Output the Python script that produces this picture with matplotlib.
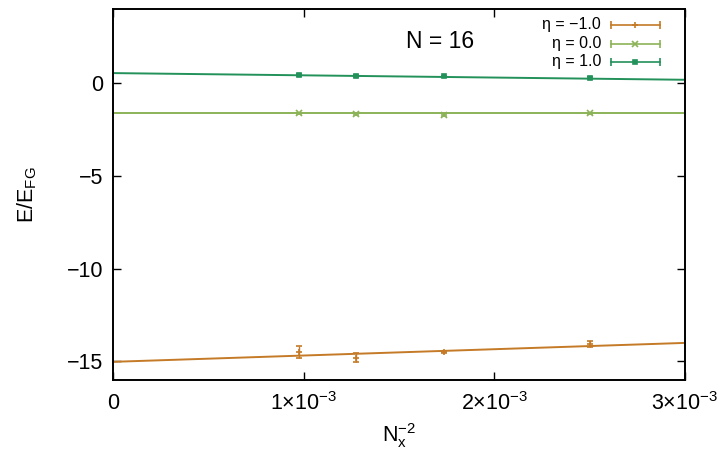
import matplotlib
matplotlib.use("Agg")
import matplotlib.pyplot as plt
import numpy as np

plt.rcParams["font.family"] = ["Liberation Sans", "DejaVu Sans"]
plt.rcParams["mathtext.fontset"] = "custom"
plt.rcParams["mathtext.rm"] = "Liberation Sans"
plt.rcParams["mathtext.it"] = "Liberation Sans"

# N_x = 32, 28, 24, 20  ->  x = 1/N_x^2
nx = np.array([32, 28, 24, 20])
x_vals = 1.0 / nx**2

labels = ["η = −1.0", "η = 0.0", "η = 1.0"]
energies = [
    [-14.50, -14.79, -14.51, -14.07],
    [-1.63, -1.66, -1.71, -1.63],
    [0.43, 0.39, 0.36, 0.27],
]
errors = [
    [0.32, 0.24, 0.06, 0.15],
    [0.04, 0.04, 0.04, 0.04],
    [0.04, 0.04, 0.04, 0.04],
]
# linear fits: value at x=0 and at x=3e-3
fit_at_0 = [-15.02, -1.62, 0.54]
fit_at_end = [-14.00, -1.62, 0.18]
fit_x = [0.0, 3e-3]

colors = ["#c47a26", "#8cb358", "#23915a"]
markers = ["+", "x", "s"]
msizes = [5, 5, 3.5]

fig = plt.figure(figsize=(7.21, 4.68), dpi=100)
ax = fig.add_axes([0.1567, 0.188, 0.7933, 0.793])

for i in range(3):
    ax.plot(fit_x, [fit_at_0[i], fit_at_end[i]], color=colors[i], lw=1.4)
    ax.errorbar(x_vals, energies[i], yerr=errors[i], fmt=markers[i], color=colors[i],
                ms=msizes[i], mew=1.2, elinewidth=1.0, capsize=2.5, capthick=1.0)

ax.set_xlim(0, 3e-3)
ax.set_ylim(-16, 4)
ax.set_xticks([0, 1e-3, 2e-3, 3e-3])
ax.set_xticklabels(["0", r"1$\times$10$^{-3}$", r"2$\times$10$^{-3}$", r"3$\times$10$^{-3}$"])
ax.set_yticks([-15, -10, -5, 0])
ax.tick_params(direction="in", length=6, width=1, labelsize=15.5, top=True, right=True, pad=9)
ax.tick_params(axis="y", pad=7)
for s in ax.spines.values():
    s.set_linewidth(1.4)

ax.set_xlabel(r"N$_{\rm x}^{-2}$", fontsize=15.5, labelpad=4)
ax.set_ylabel(r"E/E$_{\rm FG}$", fontsize=15.5, labelpad=20)

ax.text(0.572, 0.911, "N = 16", transform=ax.transAxes, fontsize=16.5, ha="center", va="center")

# gnuplot-style key: right-aligned text, horizontal sample with caps
row_y = [0.957, 0.906, 0.857]
x0, x1 = (611 - 113) / 572, (660 - 113) / 572
for i in range(3):
    ax.text(x0 - 0.017, row_y[i], labels[i], transform=ax.transAxes, fontsize=11.5,
            ha="right", va="center")
    ax.plot([x0, x1], [row_y[i]] * 2, color=colors[i], lw=1.2, transform=ax.transAxes, clip_on=False)
    ax.plot([x0, x1], [row_y[i]] * 2, ls="none", marker="|", ms=6, mew=1.2, color=colors[i],
            transform=ax.transAxes, clip_on=False)
    ax.plot([(x0 + x1) / 2], [row_y[i]], ls="none", marker=markers[i], ms=msizes[i], mew=1.2,
            color=colors[i], transform=ax.transAxes, clip_on=False)

fig.savefig("out.png", dpi=100)
